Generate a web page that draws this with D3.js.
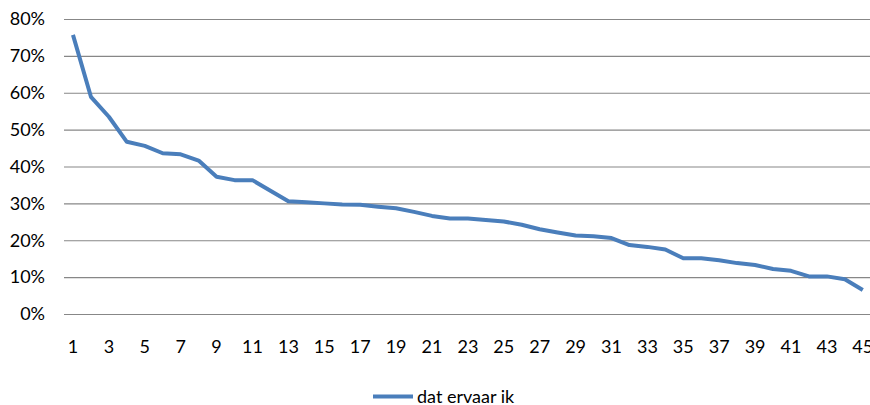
<!DOCTYPE html>
<html><head><meta charset="utf-8">
<script src="https://cdn.jsdelivr.net/npm/d3@7"></script>
<style>
body{margin:0;background:#fff;overflow:hidden}
text{font-family:Lato,"Liberation Sans",Arial,sans-serif;font-size:18px;fill:#000}
</style></head><body>
<svg id="c" width="870" height="405"></svg>
<script>
const categories = d3.range(1, 46);
const seriesName = "dat ervaar ik";
const values = [0.757,0.589,0.535,0.467,0.456,0.436,0.433,0.416,0.372,0.363,
0.363,0.334,0.306,0.303,0.300,0.297,0.296,0.291,0.287,0.277,
0.266,0.259,0.259,0.255,0.251,0.242,0.230,0.221,0.213,0.211,
0.206,0.187,0.182,0.175,0.151,0.151,0.146,0.138,0.133,0.122,
0.117,0.102,0.102,0.094,0.065];
const yTicks = [0,0.1,0.2,0.3,0.4,0.5,0.6,0.7,0.8];
const xTickLabels = categories.filter(d => d % 2 === 1);

const svg = d3.select("#c");
const mLeft = 64, mTop = 19, mBottom = 314, step = 17.95;
const x = d3.scaleBand().domain(categories).range([mLeft, mLeft + step * categories.length]).paddingInner(0).paddingOuter(0);
const y = d3.scaleLinear().domain([0, 0.8]).range([mBottom, mTop]);

const yAxis = d3.axisLeft(y).tickValues(yTicks).tickFormat(d3.format(".0%")).tickSize(-(870 - mLeft)).tickPadding(19);
const gy = svg.append("g").attr("transform", `translate(${mLeft},0)`).call(yAxis);
gy.select(".domain").remove();
gy.selectAll(".tick line").attr("stroke", "#878787").attr("stroke-width", 1.2);
gy.selectAll(".tick text").attr("fill", "#000").attr("font-size", null).attr("font-family", null);

const xAxis = d3.axisBottom(x).tickValues(xTickLabels).tickSize(0).tickPadding(26);
const gx = svg.append("g").attr("transform", `translate(0,${mBottom})`).call(xAxis);
gx.select(".domain").remove();
gx.selectAll(".tick text").attr("fill", "#000");
svg.selectAll("g").attr("font-size", null).attr("font-family", null);

const line = d3.line().x((d, i) => x(categories[i]) + x.bandwidth() / 2).y(d => y(d));
svg.append("path").datum(values).attr("d", line).attr("fill", "none")
  .attr("stroke", "#4a7ebb").attr("stroke-width", 4).attr("stroke-linejoin", "round");

const lg = svg.append("g");
lg.append("line").attr("x1", 373).attr("x2", 413).attr("y1", 396.5).attr("y2", 396.5)
  .attr("stroke", "#4a7ebb").attr("stroke-width", 4);
lg.append("text").attr("x", 417).attr("y", 403).text(seriesName);
</script></body></html>
